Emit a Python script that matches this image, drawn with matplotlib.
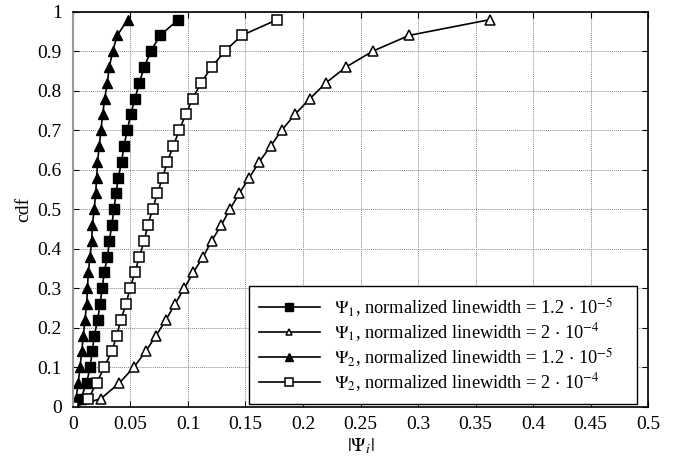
import matplotlib
matplotlib.use("Agg")
import matplotlib.pyplot as plt

plt.rcParams['font.family'] = ['Liberation Serif', 'DejaVu Serif']
plt.rcParams['mathtext.fontset'] = 'stix'

cdf = [0, 0.02, 0.06, 0.10, 0.14, 0.18, 0.22, 0.26, 0.30, 0.34, 0.38, 0.42, 0.46,
       0.50, 0.54, 0.58, 0.62, 0.66, 0.70, 0.74, 0.78, 0.82, 0.86, 0.90, 0.94, 0.98]

psi1_low = [0, 0.0067, 0.0119, 0.0148, 0.0168, 0.0185, 0.0215, 0.0235, 0.0254, 0.0272,
            0.0300, 0.0317, 0.0337, 0.0357, 0.0374, 0.0394, 0.0423, 0.0443, 0.0472,
            0.0502, 0.0539, 0.0577, 0.0620, 0.0676, 0.0757, 0.0916]
psi1_high = [0, 0.0241, 0.0403, 0.0530, 0.0632, 0.0722, 0.0809, 0.0887, 0.0968, 0.1046,
             0.1133, 0.1206, 0.1290, 0.1365, 0.1446, 0.1533, 0.1620, 0.1719, 0.1815,
             0.1930, 0.2061, 0.2200, 0.2374, 0.2606, 0.2922, 0.3626]
psi2_low = [0, 0.0026, 0.0046, 0.0061, 0.0076, 0.0090, 0.0104, 0.0119, 0.0126, 0.0133,
            0.0148, 0.0163, 0.0168, 0.0185, 0.0197, 0.0206, 0.0213, 0.0229, 0.0243,
            0.0258, 0.0276, 0.0298, 0.0316, 0.0345, 0.0385, 0.0476]
psi2_high = [0, 0.0133, 0.0206, 0.0272, 0.0337, 0.0380, 0.0417, 0.0461, 0.0496, 0.0539,
             0.0577, 0.0620, 0.0650, 0.0693, 0.0733, 0.0780, 0.0820, 0.0872, 0.0924,
             0.0980, 0.1041, 0.1113, 0.1206, 0.1320, 0.1467, 0.1777]

labels = [r"$\Psi_1$, normalized linewidth = 1.2 $\cdot$ 10$^{-5}$",
          r"$\Psi_1$, normalized linewidth = 2 $\cdot$ 10$^{-4}$",
          r"$\Psi_2$, normalized linewidth = 1.2 $\cdot$ 10$^{-5}$",
          r"$\Psi_2$, normalized linewidth = 2 $\cdot$ 10$^{-4}$"]
xticks = [0, 0.05, 0.1, 0.15, 0.2, 0.25, 0.3, 0.35, 0.4, 0.45, 0.5]
xticklabels = ["0", "0.05", "0.1", "0.15", "0.2", "0.25", "0.3", "0.35", "0.4", "0.45", "0.5"]
yticks = [0, 0.1, 0.2, 0.3, 0.4, 0.5, 0.6, 0.7, 0.8, 0.9, 1.0]
yticklabels = ["0", "0.1", "0.2", "0.3", "0.4", "0.5", "0.6", "0.7", "0.8", "0.9", "1"]

fig = plt.figure(figsize=(6.84, 4.65), dpi=100)
ax = fig.add_axes([0.1067, 0.1254, 0.8407, 0.8494])

series = [
    (psi1_low, dict(marker='s', mfc='black', mec='black', ms=7.4)),
    (psi1_high, dict(marker='^', mfc='white', mec='black', ms=6.8, mew=1.1)),
    (psi2_low, dict(marker='^', mfc='black', mec='black', ms=7.2)),
    (psi2_high, dict(marker='s', mfc='white', mec='black', ms=7.4, mew=1.1)),
]
for (xs, st), lab in zip(series, labels):
    ax.plot(xs, cdf, color='black', lw=1.2, label=lab, **st)

ax.set_xlim(0, 0.5)
ax.set_ylim(0, 1)
ax.set_xticks(xticks)
ax.set_xticklabels(xticklabels)
ax.set_yticks(yticks)
ax.set_yticklabels(yticklabels)
ax.tick_params(direction='in', top=True, right=True, labelsize=14, length=4)
ax.tick_params(axis='x', pad=7)
ax.tick_params(axis='y', pad=8)
ax.grid(True, color='#888888', linestyle=(0, (1, 1)), linewidth=0.7)
for s in ['top', 'right', 'bottom']:
    ax.spines[s].set_linewidth(1.2)
ax.spines['left'].set_color('#999999')
ax.spines['left'].set_linewidth(1.5)

ax.set_xlabel(r"$|\Psi_i|$", fontsize=14, labelpad=2)
ax.set_ylabel("cdf", fontsize=14, labelpad=4)

leg = ax.legend(loc='lower left', bbox_to_anchor=(0.306, 0.007, 0.675, 0.291),
                mode='expand', fontsize=13.2,
                fancybox=False, edgecolor='black', framealpha=1, markerscale=0.72,
                handlelength=3.3, handletextpad=0.8, borderaxespad=0, labelspacing=0.12,
                borderpad=0.55)
leg.get_frame().set_linewidth(1.0)

fig.savefig("out.png", dpi=100)
